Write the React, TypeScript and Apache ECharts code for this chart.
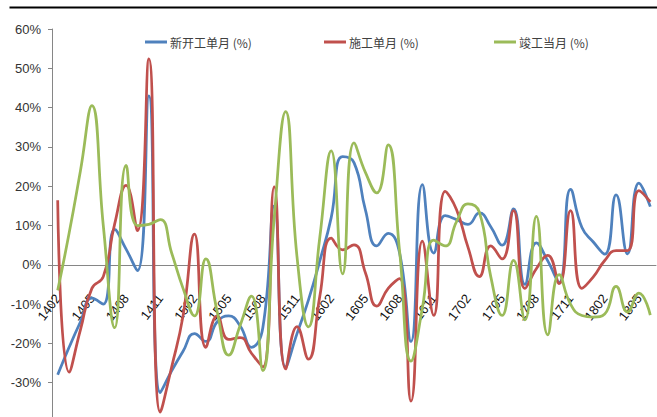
import React, { useEffect, useRef } from 'react';
import * as echarts from 'echarts';

const categories = [
  '1402', '1403', '1404', '1405', '1406', '1407', '1408', '1409', '1410', '1411', '1412',
  '1501', '1502', '1503', '1504', '1505', '1506', '1507', '1508', '1509', '1510', '1511', '1512',
  '1601', '1602', '1603', '1604', '1605', '1606', '1607', '1608', '1609', '1610', '1611', '1612',
  '1701', '1702', '1703', '1704', '1705', '1706', '1707', '1708', '1709', '1710', '1711', '1712',
  '1801', '1802', '1803', '1804', '1805', '1806',
];

const seriesNames = ['新开工单月 (%)', '施工单月 (%)', '竣工当月 (%)'];

const newStarts = [
  -28, -21, -14.5, -8.5, -10, 9, 4, -1.5, 43, -32.5,
  -27, -22, -17.5, -19.5, -14.5, -13, -15.5, -21, -16, 15,
  -26, -17.5, -9, 1, 12, 27.5, 26, 14, 4.8, 8,
  3, -19.5, 20.4, 3, 12.5, 11.5, 10.3, 13.2, 9.7, 5,
  14.2, -5, 5.6, 1, -4.5, 19.2, 9.5, 5.8, 2.7, 17.8,
  2.8, 20.8, 14.8,
];

const underConstruction = [
  16.4, -27.3, -16.5, -6, -3, 10.4, 20.2, 8.7, 52.4, -37.5,
  -26, -13, 7.8, -21, -13, -19, -18.5, -22.5, -26, 19.8,
  -26.5, -15.7, -24, -8, 6.8, 3.8, 5.1, -2, -10.5, -6,
  -3.5, -34.7, 6, -12.9, 18.7, 14, 4.5, -3, 4.8, 1.5,
  13.8, -6, -1, 2.4, -4.8, 13.8, -6, -3.1, 1.1, 3.6,
  3.6, 18.9, 16,
];

const completions = [
  -6.5, 8, 24, 40.5, 10, -16, 25.3, 10, 10.3, 11.5,
  3, -6, -13, 1.5, -12, -23, -15.5, -8, -26.9, 12,
  39, 2, -15.8, 7, 29, -2.3, 31, 23.5, 18.3, 30.5,
  3.5, -24.5, -11, 6.3, 4.8, 11, 15.5, 13.4, -3, -12.9,
  1.1, -14, 12.3, -17.8, -2.5, -10, -12.9, -13.3, -12.5, -5.5,
  -12, -7.2, -12.8,
];

const seriesData = [newStarts, underConstruction, completions];
const colors = ['#4F81BD', '#C0504D', '#9BBB59'];
const legendLeft = [145, 324, 494];
const latin = "'Liberation Sans', Arial, sans-serif";

// plot geometry: 60% at y=29, -40% at y=422 (chart div is 440 high, clipped to 417)
const GRID_TOP = 29;
const GRID_BOTTOM = 18;
const CHART_H = 440;

export default function App() {
  const ref = useRef<HTMLDivElement>(null);
  useEffect(() => {
    if (!ref.current) return;
    const chart = echarts.init(ref.current, null, { renderer: 'svg' });
    const plotH = CHART_H - GRID_TOP - GRID_BOTTOM;
    const zeroOffset = -(plotH * 40) / 100; // move x axis up from the -40% edge to 0%
    chart.setOption({
      animation: false,
      backgroundColor: '#ffffff',
      grid: {
        left: 52,
        right: 1,
        top: GRID_TOP,
        bottom: GRID_BOTTOM,
        containLabel: false,
        outerBoundsMode: 'none',
      },
      legend: seriesNames.map((name, k) => ({
        data: [name],
        left: legendLeft[k],
        top: 36,
        padding: 0,
        icon: 'rect',
        itemWidth: 22,
        itemHeight: 3,
        itemGap: 0,
        textStyle: {
          fontSize: 12,
          color: '#404040',
          fontFamily: "'Noto Sans CJK SC', sans-serif",
          padding: [0, 0, 0, -2],
        },
      })),
      graphic: {
        elements: [
          {
            type: 'line',
            left: 7,
            top: 5,
            shape: { x1: 0, y1: 1, x2: 650, y2: 1 },
            style: { stroke: '#000000', lineWidth: 2 },
            silent: true,
            z: 100,
          },
        ],
      },
      xAxis: {
        type: 'category',
        data: categories,
        boundaryGap: true,
        offset: zeroOffset,
        axisLine: { onZero: false, lineStyle: { color: '#868686', width: 1 } },
        axisTick: { interval: 2, inside: true, length: 5, lineStyle: { color: '#868686' } },
        axisLabel: {
          interval: 2,
          rotate: 53,
          margin: 31,
          fontSize: 13,
          fontFamily: latin,
          color: '#111111',
        },
        splitLine: { show: false },
      },
      yAxis: {
        type: 'value',
        min: -40,
        max: 60,
        interval: 10,
        axisLine: { show: true, lineStyle: { color: '#868686' } },
        axisTick: { show: true, length: 4, lineStyle: { color: '#868686' } },
        splitLine: { show: false },
        axisLabel: {
          formatter: '{value}%',
          fontSize: 13,
          fontFamily: latin,
          color: '#333333',
          margin: 11,
        },
      },
      series: seriesNames.map((name, k) => ({
        name,
        type: 'line',
        data: seriesData[k],
        smooth: 0.5,
        symbol: 'none',
        lineStyle: { width: 2.75, color: colors[k] },
        itemStyle: { color: colors[k] },
      })),
    });
    return () => chart.dispose();
  }, []);

  return (
    <div style={{ position: 'absolute', left: 0, top: 0, width: 657, height: 417, overflow: 'hidden', background: '#fff' }}>
      <div ref={ref} style={{ width: 657, height: CHART_H }} />
    </div>
  );
}
